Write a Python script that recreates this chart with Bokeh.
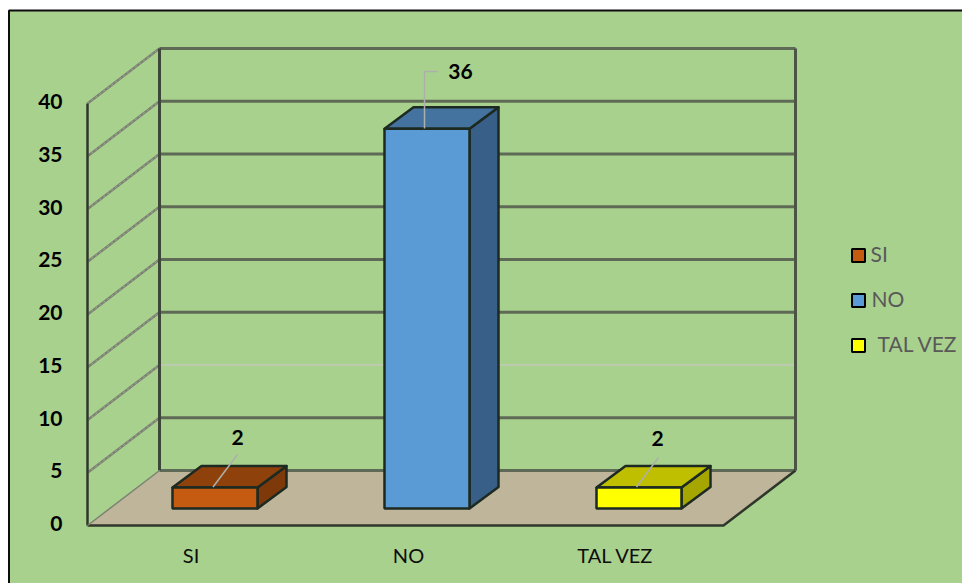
from bokeh.core.properties import value
from bokeh.embed import file_html
from bokeh.models import Range1d
from bokeh.plotting import figure
from bokeh.resources import INLINE

categories = ["SI", "NO", "TAL VEZ"]
counts = [2, 36, 2]
value_labels = ["2", "36", "2"]
y_ticks = [0, 5, 10, 15, 20, 25, 30, 35, 40]
front_colors = ["#c55a11", "#5b9bd5", "#ffff00"]
top_colors = ["#8f410c", "#44739f", "#bfbf00"]
side_colors = ["#7d390a", "#375f87", "#a6a600"]
legend_labels = ["SI", "NO", "TAL VEZ"]

# Canvas scale: one category slot and one value unit, in pixels.
W, H = 962, 583
SLOT_PX, UNIT_PX = 212.0, 10.55
ORIGIN_X, ORIGIN_Y = 193.0, 525.0


def dx(px):
    return px / SLOT_PX


def dy(px):
    return px / UNIT_PX


def sx(px):
    return (px - ORIGIN_X) / SLOT_PX


def sy(px):
    return (ORIGIN_Y - px) / UNIT_PX


p = figure(
    width=W, height=H, output_backend="svg", toolbar_location=None,
    x_range=Range1d(sx(0), sx(W)), y_range=Range1d(sy(H), sy(0)),
    min_border=0, outline_line_color=None, background_fill_color="white",
    border_fill_color="white",
)
p.axis.visible = False
p.grid.visible = False

# Chart area with its black frame
p.quad(left=sx(8.5), right=sx(W + 5), top=sy(10), bottom=sy(H + 5),
       fill_color="#a9d18e", line_color="#0d0d0d", line_width=2)

# Extent of the 3D box, in data units
X0, X1 = -0.5, 2.5
TOP = y_ticks[-1]
DEPTH_X, DEPTH_Y = dx(72), dy(55)

# Floor
p.patch([X0, X1, X1 + DEPTH_X, X0 + DEPTH_X], [0, 0, DEPTH_Y, DEPTH_Y],
        fill_color="#bfb59a", line_color=None)

# Gridlines on the back and side walls; the one at 10 is paler and thinner
GRID = "#5f6a56"
for t in y_ticks[1:]:
    pale = t == 10
    p.line([X0, X0 + DEPTH_X], [t, t + DEPTH_Y], line_color="#7b8272", line_width=2.5)
    p.line([X0, X0 + DEPTH_X], [t, t + DEPTH_Y], line_color="#a3a89c", line_width=1,
           line_dash="2 3")
    p.line([X0 + DEPTH_X, X1 + DEPTH_X], [t + DEPTH_Y] * 2,
           line_color="#c3c9bb" if pale else GRID, line_width=1.5 if pale else 3)
p.line([X0 + DEPTH_X, X1 + DEPTH_X], [DEPTH_Y, DEPTH_Y], line_color=GRID, line_width=3)

# Box edges
EDGE = "#2f372b"
p.line([X0, X0], [0, TOP], line_color=EDGE, line_width=2.5)
p.line([X0 + DEPTH_X] * 2, [DEPTH_Y, TOP + DEPTH_Y], line_color="#3d4639", line_width=3)
p.line([X1 + DEPTH_X] * 2, [DEPTH_Y, TOP + DEPTH_Y], line_color="#4b5445", line_width=3)
p.line([X0, X1, X1 + DEPTH_X], [0, 0, DEPTH_Y], line_color=EDGE, line_width=2.5)
p.line([X0, X0 + DEPTH_X], [0, DEPTH_Y], line_color="#7b8272", line_width=1.5)

# Bars: three faces each, standing in the middle of the floor's depth
HALF = dx(42.5)
BAR_X, BAR_Y = dx(21.5), dy(17)
BAR_DX, BAR_DY = dx(29), dy(21.5)
for i, v in enumerate(counts):
    l, r = i + BAR_X - HALF, i + BAR_X + HALF
    b, t = BAR_Y, BAR_Y + v
    p.patch([r, r + BAR_DX, r + BAR_DX, r], [b, b + BAR_DY, t + BAR_DY, t],
            fill_color=side_colors[i], line_color="#1c2a22", line_width=2.5, line_join="round")
    p.patch([l, r, r + BAR_DX, l + BAR_DX], [t, t, t + BAR_DY, t + BAR_DY],
            fill_color=top_colors[i], line_color="#1c2a22", line_width=2.5, line_join="round")
    p.quad(left=l, right=r, bottom=b, top=t,
           fill_color=front_colors[i], line_color="#1c2a22", line_width=2.5)

# Leader lines and value labels
LEADER = "#adb0aa"
leaders = [
    ([212.5, 237], [486.5, 454]),
    ([424, 424, 437], [128, 71, 71]),
    ([636, 658], [486.5, 457]),
]
label_pos = [(237, 437), (460, 71), (657, 438)]
for (xs, ys), (lx, ly), s in zip(leaders, label_pos, value_labels):
    p.line([sx(x) for x in xs], [sy(y) for y in ys], line_color=LEADER, line_width=1.5)
    p.text([sx(lx)], [sy(ly)], text=[s], text_font=value("Lato"), text_font_style="bold",
           text_font_size="21px", text_color="black", text_align="center",
           text_baseline="middle")

# Value axis labels
p.text([sx(62)] * len(y_ticks), [t + dy(2) for t in y_ticks], text=[str(t) for t in y_ticks],
       text_font=value("Lato"), text_font_style="bold", text_font_size="21px",
       text_color="black", text_align="right", text_baseline="middle")

# Category labels, set slightly off their slot centres
category_x = [190.5, 408, 615]
p.text([sx(x) for x in category_x], [sy(554)] * len(categories), text=categories,
       text_font=value("Lato"), text_font_size="20px", text_color="#0d0d0d",
       text_align="center", text_baseline="middle")

# Legend
legend_y = [255, 300, 345]
legend_text_x = [870, 871, 877]
for lab, col, y, tx in zip(legend_labels, front_colors, legend_y, legend_text_x):
    p.quad(left=sx(851.5), right=sx(864.5), top=sy(y - 6.5), bottom=sy(y + 6.5),
           fill_color=col, line_color="black", line_width=2)
    p.text([sx(tx)], [sy(y - 2)], text=[lab], text_font=value("Lato"), text_font_size="21px",
           text_color="#595959", text_align="left", text_baseline="middle")

open("out.html", "w").write(file_html(p, INLINE))
